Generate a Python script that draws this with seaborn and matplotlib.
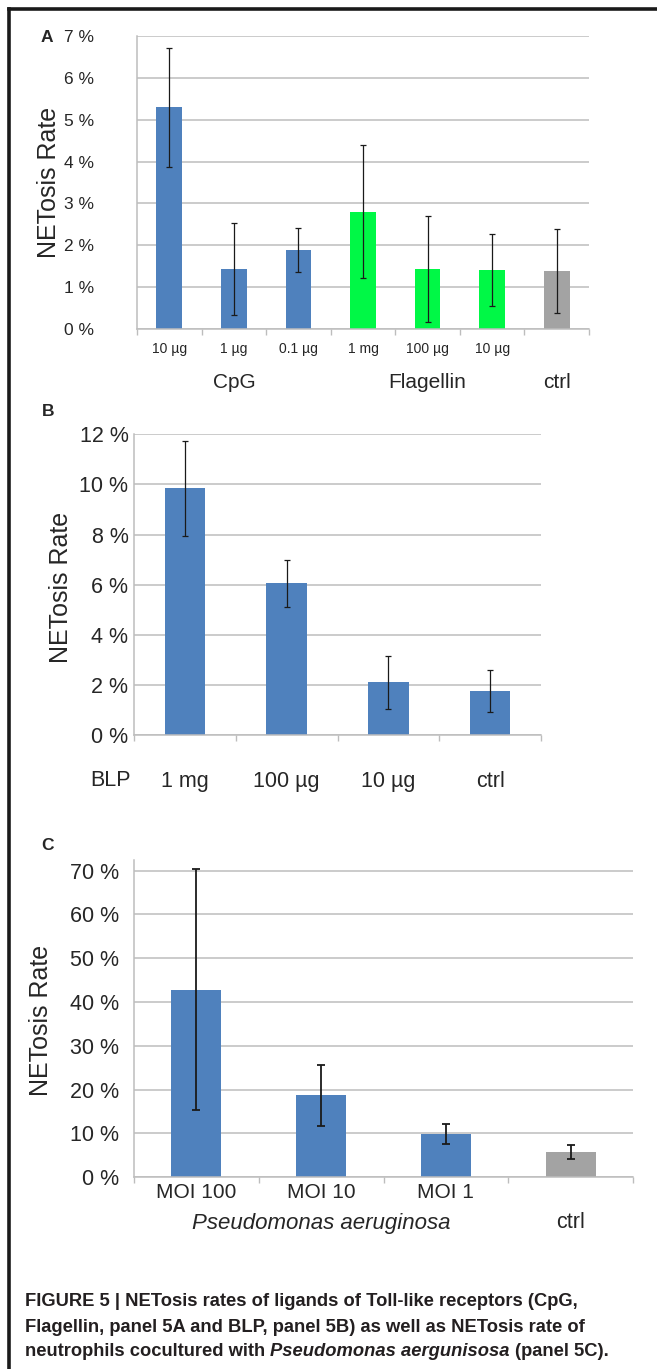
import numpy as np
import pandas as pd
import matplotlib
matplotlib.use("Agg")
import matplotlib.pyplot as plt
import matplotlib.transforms as mtransforms
from matplotlib.lines import Line2D
from matplotlib import font_manager
import seaborn as sns

# Panel A: CpG / Flagellin / ctrl
a_keys = ["CpG 10", "CpG 1", "CpG 0.1", "Fla 1mg", "Fla 100", "Fla 10", "ctrl"]
a_ticklabels = ["10 µg", "1 µg", "0.1 µg", "1 mg", "100 µg", "10 µg", ""]
a_group = ["CpG", "CpG", "CpG", "Flagellin", "Flagellin", "Flagellin", "ctrl"]
a_values = [5.30, 1.43, 1.89, 2.80, 1.43, 1.41, 1.38]
a_errors = [1.42, 1.10, 0.52, 1.59, 1.27, 0.85, 1.00]

# Panel B: BLP
b_keys = ["1 mg", "100 µg", "10 µg", "ctrl"]
b_group = ["BLP", "BLP", "BLP", "ctrl"]
b_values = [9.84, 6.05, 2.10, 1.74]
b_errors = [1.90, 0.94, 1.05, 0.84]

# Panel C: Pseudomonas aeruginosa
c_keys = ["MOI 100", "MOI 10", "MOI 1", "ctrl"]
c_ticklabels = ["MOI 100", "MOI 10", "MOI 1", ""]
c_group = ["Pseudomonas", "Pseudomonas", "Pseudomonas", "ctrl"]
c_values = [42.8, 18.7, 9.97, 5.7]
c_errors = [27.5, 6.95, 2.3, 1.6]

BLUE = "#4F81BD"
GREEN = "#00F846"
GREY = "#A3A3A3"
GRID = "#BDBDBD"

sns.set_style("white")
plt.rcParams["font.family"] = ["Liberation Sans", "DejaVu Sans"]

W, H = 657, 1369
fig = plt.figure(figsize=(W / 100, H / 100), dpi=100)


def ax_rect(left, top, right, bottom):
    return [left / W, 1 - bottom / H, (right - left) / W, (bottom - top) / H]


def draw_panel(ax, keys, groups, values, errors, palette, ylim, yticks,
               tick_fs, pad_y, ticklabels, pad_x, tick_fs_x, elw, cap):
    df = pd.DataFrame({"cond": keys, "val": values, "grp": groups})
    sns.barplot(data=df, x="cond", y="val", hue="grp", palette=palette,
                width=0.4, dodge=False, legend=False, linewidth=0, ax=ax,
                order=keys, saturation=1)
    ax.errorbar(np.arange(len(keys)), values, yerr=errors, fmt="none",
                ecolor="#1a1a1a", elinewidth=elw, capsize=cap, capthick=elw)
    ax.set_ylim(*ylim)
    ax.set_xlim(-0.5, len(keys) - 0.5)
    ax.set_yticks(yticks)
    ax.set_yticklabels([f"{t} %" for t in yticks], fontsize=tick_fs)
    ax.yaxis.grid(True, color=GRID, linewidth=1.1)
    ax.set_axisbelow(True)
    ax.tick_params(axis="y", length=0, pad=pad_y)
    ax.set_xticks(np.arange(len(keys)))
    ax.set_xticklabels(ticklabels, fontsize=tick_fs_x)
    ax.set_xticks(np.arange(len(keys) + 1) - 0.5, minor=True)
    ax.tick_params(axis="x", which="major", length=0, pad=pad_x)
    ax.tick_params(axis="x", which="minor", length=4, width=1,
                   color=GRID, direction="out", bottom=True)
    for s in ["top", "right"]:
        ax.spines[s].set_visible(False)
    for s in ["left", "bottom"]:
        ax.spines[s].set_color(GRID)
        ax.spines[s].set_linewidth(1.1)
    ax.set_xlabel("")
    ax.set_ylabel("NETosis Rate", fontsize=18)


# ---- Panel A
axA = fig.add_axes(ax_rect(137, 36, 589, 329))
draw_panel(axA, a_keys, a_group, a_values, a_errors,
           {"CpG": BLUE, "Flagellin": GREEN, "ctrl": GREY},
           (0, 7), list(range(0, 8)), 12.5, 31, a_ticklabels, 9, 10, 0.9, 2.2)
axA.yaxis.set_label_coords(-0.168, 0.5)
tA = mtransforms.blended_transform_factory(axA.transData, fig.transFigure)
for x, lab in [(1, "CpG"), (4, "Flagellin"), (6, "ctrl")]:
    axA.text(x, 1 - 382 / H, lab, transform=tA, ha="center", va="center",
             fontsize=15)

# ---- Panel B
axB = fig.add_axes(ax_rect(134, 434.3, 541, 735))
draw_panel(axB, b_keys, b_group, b_values, b_errors,
           {"BLP": BLUE, "ctrl": BLUE},
           (0, 12), list(range(0, 13, 2)), 15.5, 4, b_keys, 26, 15.5, 0.9, 2.2)
axB.yaxis.set_label_coords(-0.15, 0.49)
fig.text(110 / W, 1 - 780 / H, "BLP", ha="center", va="center", fontsize=15.5)

# ---- Panel C
axC = fig.add_axes(ax_rect(134, 860, 633, 1177.3))
draw_panel(axC, c_keys, c_group, c_values, c_errors,
           {"Pseudomonas": BLUE, "ctrl": GREY},
           (0, 72.4), list(range(0, 71, 10)), 15.5, 11, c_ticklabels, 4, 15, 1.3, 2.6)
axC.yaxis.set_label_coords(-0.162, 0.494)
tC = mtransforms.blended_transform_factory(axC.transData, fig.transFigure)
axC.text(1, 1 - 1223 / H, "Pseudomonas aeruginosa", transform=tC,
         ha="center", va="center", fontsize=16, style="italic")
axC.text(3, 1 - 1223 / H, "ctrl", transform=tC, ha="center", va="center",
         fontsize=15.5)

# panel letters
for lab, x, y in [("A", 47, 38), ("B", 48, 411), ("C", 47.5, 846)]:
    fig.text(x / W, 1 - y / H, lab, ha="center", va="center",
             fontsize=12.5, fontweight="bold")

# frame (left and top edges; right/bottom lie outside the image)
fx, fy = 9 / W, 1 - 9 / H
fig.add_artist(Line2D([fx, fx], [0, fy], transform=fig.transFigure,
                      color="#1a1a1a", linewidth=2.6, solid_capstyle="projecting"))
fig.add_artist(Line2D([fx, 1], [fy, fy], transform=fig.transFigure,
                      color="#1a1a1a", linewidth=2.6, solid_capstyle="projecting"))

# caption
names = {f.name for f in font_manager.fontManager.ttflist}
cap_family = ["Liberation Sans Narrow"] if "Liberation Sans Narrow" in names else ["Liberation Sans"]
cap_color = "#231F20"
renderer = fig.canvas.get_renderer()
line1 = "FIGURE 5 | NETosis rates of ligands of Toll-like receptors (CpG,"
line2 = "Flagellin, panel 5A and BLP, panel 5B) as well as NETosis rate of"
probe = fig.text(25 / W, 1 - 1302 / H, line1, fontsize=12, fontweight="bold",
                 family=cap_family, color=cap_color, va="center")
w = probe.get_window_extent(renderer).width
cap_fs = 12 * (574 - 25) / w
probe.set_fontsize(cap_fs)
fig.text(25 / W, 1 - 1327 / H, line2, fontsize=cap_fs, fontweight="bold",
         family=cap_family, color=cap_color, va="center")
x0 = 25
y3 = 1 - 1352 / H
segs = [("neutrophils cocultured with", "normal"),
        ("Pseudomonas aergunisosa", "italic"),
        ("(panel 5C).", "normal")]
space = cap_fs * 100 / 72 * 0.28
for txt, st in segs:
    t = fig.text(x0 / W, y3, txt, fontsize=cap_fs, fontweight="bold",
                 family=cap_family, style=st, color=cap_color, va="center")
    x0 = t.get_window_extent(renderer).x1 + space

fig.savefig("out.png", dpi=100)
